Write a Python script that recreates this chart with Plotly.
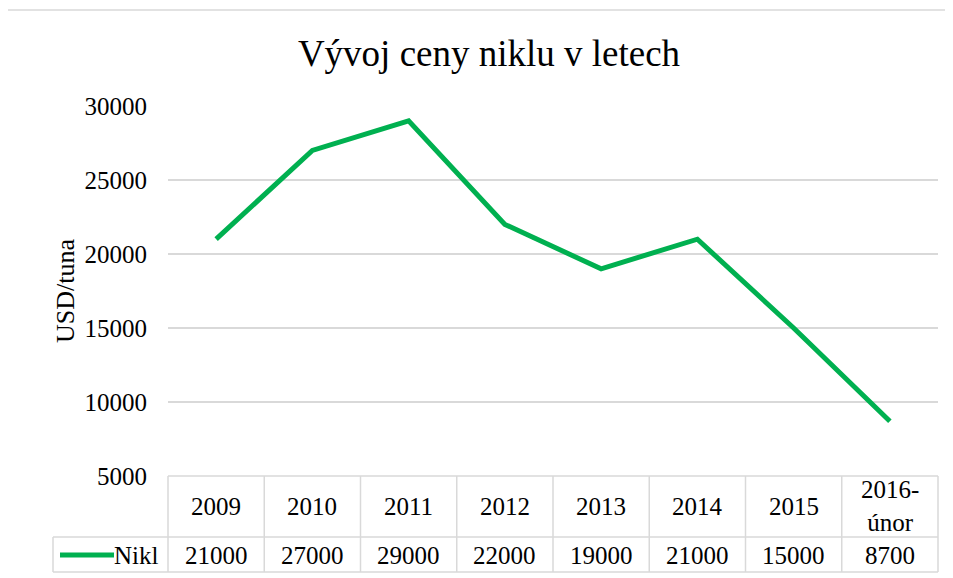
import plotly.graph_objects as go

categories = ["2009", "2010", "2011", "2012", "2013", "2014", "2015", "2016-únor"]
header_labels = ["2009", "2010", "2011", "2012", "2013", "2014", "2015", "2016-<br>únor"]
nikl = [21000, 27000, 29000, 22000, 19000, 21000, 15000, 8700]
y_ticks = [5000, 10000, 15000, 20000, 25000, 30000]

W, H = 953, 578
OFF = 8  # page body margin offset
# plot area in page pixels: x 168..938, y 106..476
L = 168 - OFF
R = W - (938 - OFF)
T = 106 - OFF
B = H - (476 - OFF)
pw = W - L - R
ph = H - T - B

FONT = "Liberation Serif"
GRID = "#d9d9d9"
GREEN = "#00B050"
FS = 25

def px_x(p):
    return (p - OFF - L) / pw

def px_y(p):
    return (H - B - (p - OFF)) / ph

xs = list(range(len(categories)))

fig = go.Figure()
fig.add_trace(go.Scatter(
    x=xs, y=nikl, mode="lines", name="Nikl",
    line=dict(color=GREEN, width=5),
    hoverinfo="x+y",
))

shapes = []
annotations = []

# outer chart border
shapes.append(dict(type="rect", xref="paper", yref="paper",
                   x0=px_x(6), x1=px_x(980), y0=px_y(10), y1=px_y(620),
                   line=dict(color=GRID, width=1.5), fillcolor="rgba(0,0,0,0)", layer="below"))

y_top = 0.0
y_mid = px_y(537)
y_bot = px_y(572)

line_style = dict(color=GRID, width=1.5)
# horizontal table lines
shapes.append(dict(type="line", xref="paper", yref="paper", x0=0, x1=1, y0=y_top, y1=y_top, line=line_style))
shapes.append(dict(type="line", xref="paper", yref="paper", x0=px_x(53), x1=1, y0=y_mid, y1=y_mid, line=line_style))
shapes.append(dict(type="line", xref="paper", yref="paper", x0=px_x(53), x1=1, y0=y_bot, y1=y_bot, line=line_style))
# vertical table lines
shapes.append(dict(type="line", xref="paper", yref="paper", x0=0, x1=0, y0=y_top, y1=y_bot, line=line_style))
shapes.append(dict(type="line", xref="paper", yref="paper", x0=1, x1=1, y0=y_top, y1=y_bot, line=line_style))
for k in range(1, len(categories)):
    shapes.append(dict(type="line", xref="x", yref="paper", x0=k - 0.5, x1=k - 0.5, y0=y_top, y1=y_bot,
                       line=line_style))
shapes.append(dict(type="line", xref="paper", yref="paper", x0=px_x(53), x1=px_x(53), y0=y_mid, y1=y_bot,
                   line=line_style))

# legend key in table
shapes.append(dict(type="line", xref="paper", yref="paper", x0=px_x(60), x1=px_x(114),
                   y0=px_y(555), y1=px_y(555), line=dict(color=GREEN, width=5)))
annotations.append(dict(text="Nikl", xref="paper", yref="paper", x=px_x(161), y=px_y(555),
                        xanchor="right", yanchor="middle", showarrow=False,
                        font=dict(family=FONT, size=FS, color="black")))

for i, (lab, v) in enumerate(zip(header_labels, nikl)):
    annotations.append(dict(text=lab, xref="x", yref="paper", x=i, y=px_y(506),
                            xanchor="center", yanchor="middle", showarrow=False,
                            font=dict(family=FONT, size=FS, color="black")))
    annotations.append(dict(text=str(v), xref="x", yref="paper", x=i, y=px_y(555),
                            xanchor="center", yanchor="middle", showarrow=False,
                            font=dict(family=FONT, size=FS, color="black")))

# y axis title
annotations.append(dict(text="USD/tuna", xref="paper", yref="paper", x=px_x(65), y=px_y(291),
                        xanchor="center", yanchor="middle", textangle=-90, showarrow=False,
                        font=dict(family=FONT, size=26, color="black")))

fig.update_layout(
    width=W, height=H,
    margin=dict(l=L, r=R, t=T, b=B, pad=0),
    paper_bgcolor="white", plot_bgcolor="white",
    showlegend=False,
    title=dict(text="Vývoj ceny niklu v letech", x=(489 - OFF) / W, xref="container", xanchor="center",
               y=1 - (53 - OFF) / H, yref="container", yanchor="middle",
               font=dict(family=FONT, size=37, color="black")),
    xaxis=dict(range=[-0.5, len(categories) - 0.5], showticklabels=False, showgrid=False,
               zeroline=False, showline=False, ticks=""),
    yaxis=dict(range=[5000, 30000], tickvals=y_ticks, ticktext=[str(t) for t in y_ticks],
               showgrid=True, gridcolor=GRID, gridwidth=1.5, zeroline=False, showline=False,
               ticks="", ticklabelstandoff=20,
               tickfont=dict(family=FONT, size=FS, color="black")),
    shapes=shapes,
    annotations=annotations,
    font=dict(family=FONT),
)

fig.write_html("out.html")
